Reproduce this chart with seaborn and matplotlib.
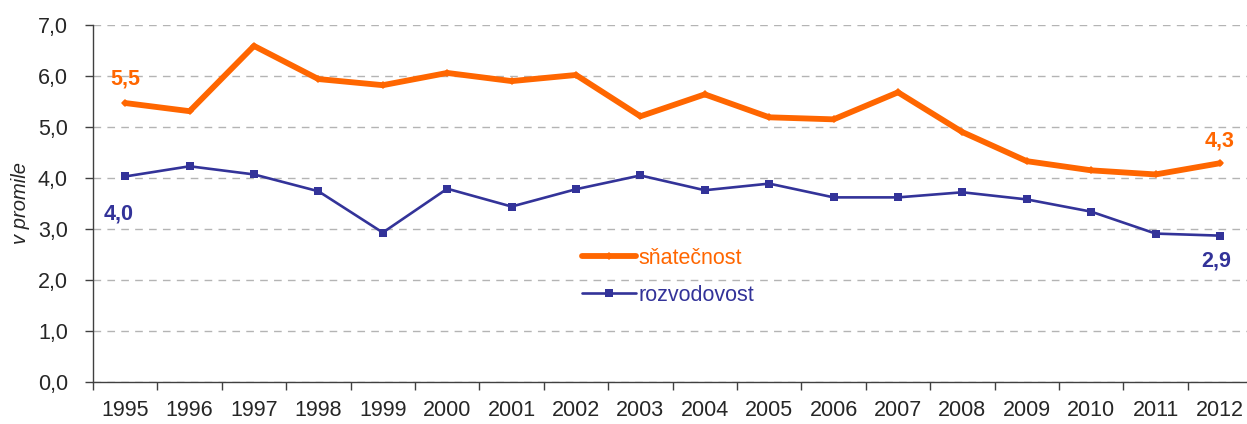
import numpy as np
import pandas as pd
import matplotlib
matplotlib.use("Agg")
import matplotlib.pyplot as plt
import seaborn as sns

# data
roky = [str(r) for r in range(1995, 2013)]
snatecnost = [5.47, 5.31, 6.59, 5.94, 5.82, 6.06, 5.90, 6.02, 5.21, 5.64,
              5.19, 5.15, 5.68, 4.90, 4.33, 4.15, 4.07, 4.29]
rozvodovost = [4.03, 4.23, 4.07, 3.74, 2.93, 3.79, 3.44, 3.78, 4.05, 3.76,
               3.89, 3.62, 3.62, 3.72, 3.58, 3.34, 2.91, 2.87]

ORANGE = '#FF6600'
BLUE = '#333399'

sns.set_style('white')
plt.rcParams['font.family'] = ['Liberation Sans', 'DejaVu Sans']

df = pd.DataFrame({'x': np.arange(len(roky)), 'snat': snatecnost, 'rozv': rozvodovost})

fig = plt.figure(figsize=(12.47, 4.24), dpi=100)
ax = fig.add_axes([93 / 1247, 42 / 424, 18 * 64.4 / 1247, 357 / 424])

sns.lineplot(data=df, x='x', y='snat', ax=ax, color=ORANGE, linewidth=4.2,
             marker='D', markersize=4, markeredgewidth=0, label='sňatečnost')
sns.lineplot(data=df, x='x', y='rozv', ax=ax, color=BLUE, linewidth=1.9,
             marker='s', markersize=5.5, markeredgewidth=0, label='rozvodovost')

ax.set_xlim(-0.5, 17.5)
ax.set_ylim(0, 7)
ax.set_yticks(np.arange(0, 7.01, 1))
ax.set_yticklabels([f'{v:.1f}'.replace('.', ',') for v in np.arange(0, 7.01, 1)], fontsize=15.5)
ax.set_xticks(np.arange(-0.5, 18, 1))
ax.set_xticklabels([''] * 19)
ax.set_xticks(np.arange(len(roky)), minor=True)
ax.set_xticklabels(roky, minor=True, fontsize=15.5)
ax.tick_params(axis='x', which='major', direction='out', length=6, width=1, color='#404040', bottom=True)
ax.tick_params(axis='x', which='minor', length=0, pad=13)
ax.tick_params(axis='y', direction='out', length=6, width=1, color='#404040', left=True, pad=12)

ax.yaxis.grid(True, linestyle=(0, (5.5, 4.5)), color='#b4b4b4', linewidth=1)
ax.set_axisbelow(True)
for s in ['top', 'right']:
    ax.spines[s].set_visible(False)
for s in ['left', 'bottom']:
    ax.spines[s].set_color('#404040')
    ax.spines[s].set_linewidth(1)

ax.set_xlabel('')
ax.set_ylabel('v promile', fontsize=14.5, style='italic', labelpad=6)

# hodnoty na krajích
lab = dict(fontsize=15.5, fontweight='bold', ha='center', va='center')
ax.annotate('5,5', (0, snatecnost[0]), xytext=(0, 17), textcoords='offset points', color=ORANGE, **lab)
ax.annotate('4,0', (0, rozvodovost[0]), xytext=(-5, -27), textcoords='offset points', color=BLUE, **lab)
ax.annotate('4,3', (17, snatecnost[-1]), xytext=(0, 16), textcoords='offset points', color=ORANGE, **lab)
ax.annotate('2,9', (17, rozvodovost[-1]), xytext=(-3, -18), textcoords='offset points', color=BLUE, **lab)

leg = ax.legend(loc='upper left', bbox_to_anchor=(0.405, 0.43), frameon=False, fontsize=15.5,
                handlelength=2.5, handletextpad=0.15, labelspacing=0.75)
for t, c in zip(leg.get_texts(), [ORANGE, BLUE]):
    t.set_color(c)

fig.savefig('out.png', dpi=100)
